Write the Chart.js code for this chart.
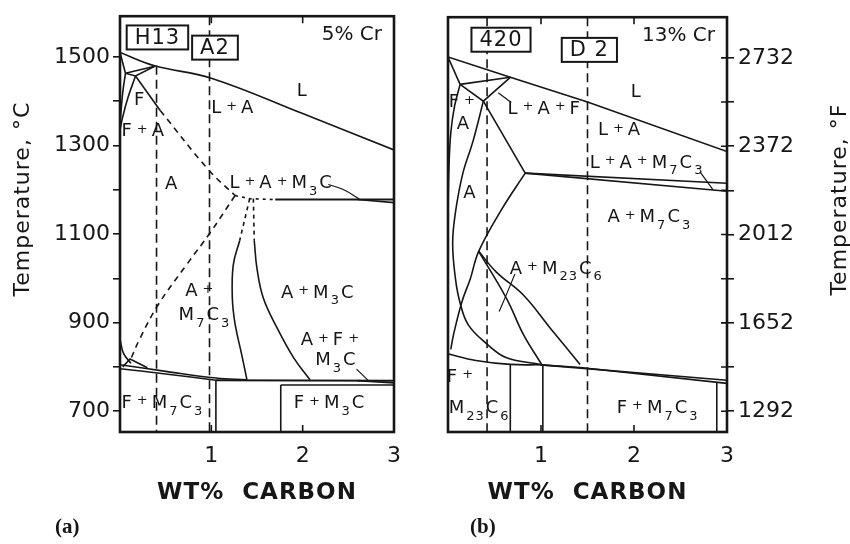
<!DOCTYPE html>
<html>
<head>
<meta charset="utf-8">
<script src="https://cdn.jsdelivr.net/npm/chart.js@4.4.1/dist/chart.umd.min.js"></script>
<style>
  body { margin: 0; background: #fff; }
  #page { position: relative; width: 850px; height: 544px; overflow: hidden; background: #fff; }
  #chart5 { position: absolute; left: 0; top: 0; }
  #chart13 { position: absolute; left: 420px; top: 0; }
</style>
</head>
<body>
<div id="page">
  <canvas id="chart5" width="420" height="544"></canvas>
  <canvas id="chart13" width="430" height="544"></canvas>
</div>
<script>
// temperature range of both sections, deg C
const T_MIN = 653;
const T_MAX = 1592;
const carbonTicks = [1, 2, 3];

// ---- 5% Cr section: boundaries as [wt% C, deg C] ----
const liquidus5 = [[0, 1510], [0.38, 1480], [1, 1452], [2, 1372], [3, 1290]];
const deltaSolidus5 = [[0, 1510], [0.06, 1463]];
const peritectic5 = [[0.06, 1463], [0.38, 1479]];
const peritecticLow5 = [[0.06, 1463], [0.17, 1457], [0.38, 1479]];
const ferriteLimit5 = [[0.06, 1463], [0.03, 1420], [0, 1350]];
const austeniteLimit5 = [[0.17, 1457], [0.09, 1410], [0.03, 1365], [0, 1335]];
const solidus5 = [[0.17, 1457], [0.44, 1379]];
const solidusExtra5 = [[0.44, 1379], [0.97, 1245], [1.26, 1187]];
const eutecticDash5 = [[1.26, 1187], [1.42, 1180], [1.7, 1178]];
const eutectic5 = [[1.7, 1178], [3, 1178]];
const eutecticBand5 = [[2.6, 1178], [3, 1171]];
const carbideSolvus5 = [[1.26, 1187], [0.99, 1104], [0.73, 1031], [0.42, 941], [0.22, 865], [0.11, 814]];
const m7Dash5 = [[1.42, 1180], [1.31, 1085]];
const m3Dash5 = [[1.46, 1180], [1.47, 1085]];
const m7Limit5 = [[1.31, 1085], [1.24, 1030], [1.23, 955], [1.26, 897], [1.33, 830], [1.39, 771]];
const m3Limit5 = [[1.47, 1085], [1.5, 1022], [1.57, 955], [1.72, 888], [1.9, 821], [2.08, 771]];
const eutectoidUpper5 = [[0, 805], [0.5, 790], [1.05, 775], [1.39, 771]];
const eutectoidLower5 = [[0, 796], [0.5, 784], [1.05, 770]];
const eutectoid5 = [[1.05, 770], [3, 769]];
const eutectoidBand5 = [[2.6, 769], [3, 764]];
const ferriteCarbide5 = [[1.76, 759], [3, 759]];
const split5a = [[1.05, 770], [1.05, 653]];
const split5b = [[1.76, 759], [1.76, 653]];
const lowCorner5 = [[0, 862], [0.04, 830], [0.12, 808]];
const lowTriangle5 = [[0.03, 800], [0.11, 818], [0.3, 798]];
const leaderEutectic5 = [[2.28, 1212], [2.45, 1200], [2.62, 1179]];
const leaderM3C5 = [[2.59, 795], [2.72, 769]];
const steelH13 = [[0.4, 1480], [0.4, T_MIN]];
const steelA2 = [[0.98, T_MAX], [0.98, T_MIN]];

// ---- 13% Cr section ----
const liquidus13 = [[0, 1502], [0.67, 1456], [1.5, 1400], [3, 1288]];
const deltaSolidus13 = [[0, 1502], [0.13, 1440]];
const peritectic13 = [[0.13, 1440], [0.67, 1456]];
const peritecticLow13 = [[0.13, 1440], [0.38, 1402], [0.67, 1456]];
const ferriteLimit13 = [[0.13, 1440], [0.07, 1390], [0.03, 1330], [0.01, 1250], [0, 1150]];
const gammaLoop13 = [[0.38, 1402], [0.27, 1312], [0.16, 1239], [0.08, 1150], [0.05, 1080],
  [0.08, 1000], [0.13, 945], [0.22, 895], [0.42, 852], [0.63, 821], [1.0, 806]];
const solidus13 = [[0.38, 1402], [0.83, 1239]];
const eutecticUpper13 = [[0.83, 1239], [3, 1216]];
const eutecticLower13 = [[0.83, 1239], [3, 1198]];
const carbideSolvus13 = [[0.83, 1239], [0.58, 1158], [0.33, 1062], [0.24, 1000], [0.15, 948], [0.06, 874], [0.03, 840]];
const m23Left13 = [[0.33, 1062], [0.63, 955], [0.81, 874], [1.01, 805]];
const m23Right13 = [[0.33, 1062], [0.52, 1015], [0.81, 963], [1.1, 888], [1.42, 806]];
const eutectoidLeft13 = [[0, 830], [0.3, 815], [0.67, 806], [1.0, 805]];
const eutectoidUpper13 = [[1.0, 805], [3, 770]];
const eutectoidLower13 = [[1.0, 805], [1.42, 799], [3, 763]];
const split13a = [[0.67, 806], [0.67, T_MIN]];
const split13b = [[1.02, 805], [1.02, T_MIN]];
const split13c = [[2.89, 765], [2.89, T_MIN]];
const leaderLAF13 = [[0.68, 1399], [0.54, 1421]];
const leaderLAM13 = [[2.71, 1242], [2.85, 1201]];
const leaderM23 = [[0.72, 1011], [0.62, 960], [0.55, 926]];
const steel420 = [[0.42, T_MAX], [0.42, T_MIN]];
const steelD2 = [[1.5, T_MAX], [1.5, T_MIN]];

// region labels: text, wt% C, deg C  ("_n" = subscript)
const regions5 = [
  ['L', 2.0, 1422], ['L+A', 1.24, 1384], ['F', 0.22, 1402], ['F+A', 0.26, 1332],
  ['A', 0.57, 1212], ['L+A+M_3C', 1.77, 1214], ['A+', 0.89, 970], ['M_7C_3', 0.93, 917],
  ['A+M_3C', 2.17, 967], ['A+F+', 2.32, 859], ['M_3C', 2.37, 814],
  ['F+M_7C_3', 0.47, 718], ['F+M_3C', 2.3, 717]
];
const regions13 = [
  ['L', 2.03, 1422], ['L+A+F', 1.04, 1384], ['F+', 0.17, 1399], ['A', 0.17, 1350],
  ['L+A', 1.85, 1335], ['L+A+M_7C_3', 2.14, 1262], ['A', 0.24, 1194],
  ['A+M_7C_3', 2.17, 1138], ['A+M_23C_6', 1.17, 1022], ['F+', 0.15, 777],
  ['M_23C_6', 0.34, 706], ['F+M_7C_3', 2.26, 707]
];
// steel grades and where their tags sit
const grades5 = [['H13', 0.41, 1544], ['A2', 1.04, 1521]];
const grades13 = [['420', 0.57, 1541], ['D 2', 1.52, 1518]];

const INK = '#161616';
const SANS = "'DejaVu Sans', sans-serif";
Chart.defaults.font.family = SANS;
Chart.defaults.color = INK;

function trace(points, style = {}) {
  return {
    data: points.map(([x, y]) => ({ x, y })),
    showLine: true,
    borderColor: INK,
    borderWidth: style.width || 1.6,
    borderDash: style.dash || [],
    tension: style.curve ? 0.4 : 0,
    pointRadius: 0,
    pointHoverRadius: 0,
    fill: false
  };
}
const DASH = [6, 5];
const STEEL = [9, 5];

// split "M_23C_6" into normal letters, subscripts and small plus signs
function richParts(text) {
  const parts = [];
  let i = 0;
  while (i < text.length) {
    const c = text[i];
    if (c === '_') {
      let j = i + 1;
      while (j < text.length && /\d/.test(text[j])) j++;
      parts.push({ s: text.slice(i + 1, j), kind: 'sub' });
      i = j;
    } else {
      parts.push({ s: c, kind: c === '+' ? 'plus' : 'main' });
      i++;
    }
  }
  return parts;
}

function drawRich(ctx, text, cx, cy, size) {
  const parts = richParts(text);
  const fontFor = k => (k === 'main' ? size : Math.round(size * 0.72)) + 'px ' + SANS;
  let total = 0;
  parts.forEach(p => {
    ctx.font = fontFor(p.kind);
    p.w = ctx.measureText(p.s).width + (p.kind === 'plus' ? 6 : 1);
    total += p.w;
  });
  let x = cx - total / 2;
  ctx.textAlign = 'left';
  ctx.textBaseline = 'middle';
  parts.forEach(p => {
    ctx.font = fontFor(p.kind);
    const dy = p.kind === 'sub' ? size * 0.45 : p.kind === 'plus' ? -size * 0.12 : 0;
    ctx.fillText(p.s, x + (p.kind === 'plus' ? 3 : 0), cy + dy);
    x += p.w;
  });
}

// frame, edge ticks, grade tags, region labels and titles
const diagramDecor = {
  id: 'diagramDecor',
  afterDatasetsDraw(chart, args, opts) {
    const { ctx, chartArea: a, scales } = chart;
    const sx = scales.x, sy = scales.y;
    ctx.save();
    ctx.strokeStyle = INK;
    ctx.fillStyle = INK;

    ctx.lineWidth = 1.6;
    ctx.beginPath();
    carbonTicks.slice(0, 2).forEach(v => {
      const px = sx.getPixelForValue(v);
      ctx.moveTo(px, a.top); ctx.lineTo(px, a.top + 7);
      ctx.moveTo(px, a.bottom); ctx.lineTo(px, a.bottom - 7);
    });
    if (opts.innerRight) {
      for (let t = 700; t <= 1500; t += 100) {
        const py = sy.getPixelForValue(t);
        ctx.moveTo(a.right - 6, py); ctx.lineTo(a.right, py);
      }
    }
    ctx.stroke();

    ctx.lineWidth = 2.6;
    ctx.strokeRect(a.left, a.top, a.right - a.left, a.bottom - a.top);

    // grade tags
    opts.grades.forEach(([name, gx, gt]) => {
      const px = sx.getPixelForValue(gx), py = sy.getPixelForValue(gt);
      ctx.font = '21px ' + SANS;
      ctx.letterSpacing = '1px';
      const w = ctx.measureText(name).width + 16, h = 24;
      ctx.fillStyle = '#fff';
      ctx.fillRect(px - w / 2, py - h / 2, w, h);
      ctx.lineWidth = 2;
      ctx.strokeRect(px - w / 2, py - h / 2, w, h);
      ctx.fillStyle = INK;
      ctx.textAlign = 'center';
      ctx.textBaseline = 'middle';
      ctx.fillText(name, px, py + 1);
      ctx.letterSpacing = '0px';
    });

    // chromium content
    ctx.font = '20px ' + SANS;
    ctx.textAlign = 'right';
    ctx.textBaseline = 'middle';
    ctx.fillText(opts.alloy, a.right - 12, a.top + 19);

    ctx.letterSpacing = '1px';
    opts.regions.forEach(([txt, rx, rt]) => {
      drawRich(ctx, txt, sx.getPixelForValue(rx), sy.getPixelForValue(rt), 18);
    });

    // carbon axis title
    ctx.font = 'bold 23px ' + SANS;
    ctx.letterSpacing = '1px';
    ctx.textAlign = 'center';
    ctx.textBaseline = 'middle';
    ctx.fillText('WT%  CARBON', (a.left + a.right) / 2, a.bottom + 61);

    // temperature title, read bottom to top
    ctx.save();
    const tx = opts.tempSide === 'left' ? 23 : chart.width - 10;
    ctx.translate(tx, (a.top + a.bottom) / 2 - 25);
    ctx.rotate(-Math.PI / 2);
    ctx.font = '22px ' + SANS;
    ctx.fillText(opts.tempTitle, 0, 0);
    ctx.restore();

    ctx.letterSpacing = '0px';
    ctx.font = 'bold 21px "Liberation Serif", serif';
    ctx.textAlign = 'left';
    ctx.fillText(opts.tag, opts.tagX, 528);
    ctx.restore();
  }
};

function buildPanel(id, datasets, cfg) {
  const yTicks = {
    stepSize: 100,
    includeBounds: false,
    autoSkip: false,
    padding: cfg.side === 'left' ? 3 : 4,
    font: { size: 22 },
    callback: v => (v % 200 === 100 ? cfg.label(v) : '')
  };
  return new Chart(document.getElementById(id), {
    type: 'scatter',
    data: { datasets },
    plugins: [diagramDecor],
    options: {
      responsive: false,
      animation: false,
      events: [],
      layout: { padding: cfg.padding },
      plugins: {
        legend: { display: false },
        tooltip: { enabled: false },
        diagramDecor: cfg.decor
      },
      scales: {
        x: {
          type: 'linear', min: 0, max: 3,
          border: { display: false },
          grid: { display: false, drawTicks: false },
          ticks: { stepSize: 1, padding: 11, font: { size: 22 }, callback: v => (v === 0 ? '' : v) },
          afterFit: s => { s.height = 112; }
        },
        y: {
          type: 'linear', min: T_MIN, max: T_MAX, position: cfg.side,
          border: { display: false },
          grid: { drawOnChartArea: false, tickLength: 7, color: INK, lineWidth: 1.6 },
          ticks: yTicks,
          afterFit: s => { s.width = cfg.axisWidth; }
        }
      }
    }
  });
}

buildPanel('chart5', [
  trace(liquidus5, { curve: true }),
  trace(deltaSolidus5), trace(peritectic5), trace(peritecticLow5),
  trace(ferriteLimit5, { curve: true }), trace(austeniteLimit5, { curve: true }),
  trace(solidus5), trace(solidusExtra5, { dash: DASH, curve: true }),
  trace(eutecticDash5, { dash: [3, 4] }), trace(eutectic5, { width: 2 }), trace(eutecticBand5),
  trace(carbideSolvus5, { dash: DASH, curve: true }),
  trace(m7Dash5, { dash: [4, 4] }), trace(m3Dash5, { dash: [4, 4] }),
  trace(m7Limit5, { curve: true }), trace(m3Limit5, { curve: true }),
  trace(eutectoidUpper5, { curve: true }), trace(eutectoidLower5, { curve: true }),
  trace(eutectoid5, { width: 2 }), trace(eutectoidBand5), trace(ferriteCarbide5),
  trace(split5a), trace(split5b),
  trace(lowCorner5, { curve: true }), trace(lowTriangle5),
  trace(leaderEutectic5, { width: 1.2, curve: true }), trace(leaderM3C5, { width: 1.2 }),
  trace(steelH13, { dash: STEEL }), trace(steelA2, { dash: STEEL })
], {
  side: 'left',
  axisWidth: 120,
  padding: { top: 12, right: 26, left: 0, bottom: 0 },
  label: v => v,
  decor: {
    regions: regions5, grades: grades5, alloy: '5% Cr',
    tempSide: 'left', tempTitle: 'Temperature, °C',
    tag: '(a)', tagX: 55, innerRight: false
  }
});

buildPanel('chart13', [
  trace(liquidus13),
  trace(deltaSolidus13), trace(peritectic13), trace(peritecticLow13),
  trace(ferriteLimit13, { curve: true }), trace(gammaLoop13, { curve: true }),
  trace(solidus13), trace(eutecticUpper13), trace(eutecticLower13),
  trace(carbideSolvus13, { curve: true }),
  trace(m23Left13, { curve: true }), trace(m23Right13, { curve: true }),
  trace(eutectoidLeft13, { curve: true }), trace(eutectoidUpper13), trace(eutectoidLower13),
  trace(split13a), trace(split13b), trace(split13c),
  trace(leaderLAF13, { width: 1.2 }), trace(leaderLAM13, { width: 1.2 }),
  trace(leaderM23, { width: 1.2, curve: true }),
  trace(steel420, { dash: STEEL }), trace(steelD2, { dash: STEEL })
], {
  side: 'right',
  axisWidth: 123,
  padding: { top: 12, right: 0, left: 28, bottom: 0 },
  label: v => Math.round(v * 9 / 5 + 32),
  decor: {
    regions: regions13, grades: grades13, alloy: '13% Cr',
    tempSide: 'right', tempTitle: 'Temperature, °F',
    tag: '(b)', tagX: 50, innerRight: true
  }
});
</script>
</body>
</html>
